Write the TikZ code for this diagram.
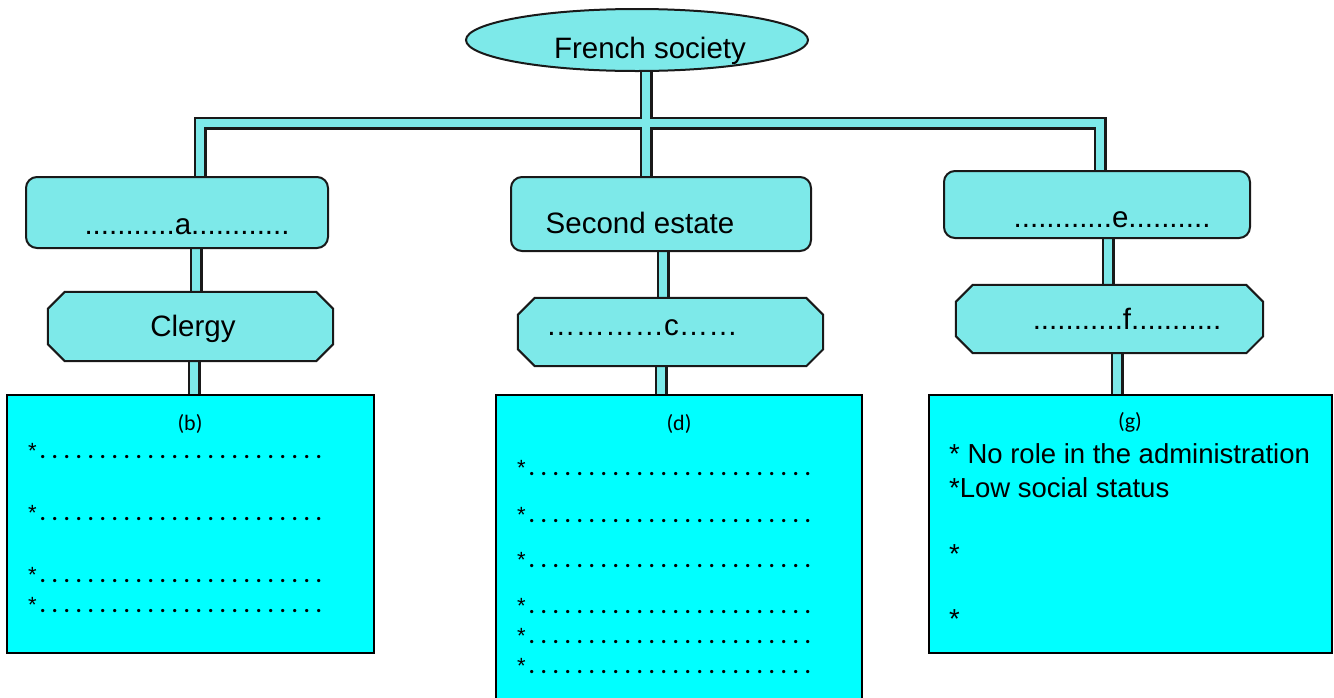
\documentclass[tikz,border=0pt]{standalone}
\usepackage{fontspec}
\setmainfont{Liberation Sans}
\newfontfamily\calib{Carlito}
\usetikzlibrary{shapes.geometric}
\pgfdeclarelayer{background}
\pgfsetlayers{background,main}
\definecolor{pale}{HTML}{7DE9E9}
\definecolor{aqua}{HTML}{00FFFF}
% a blank answer line: an asterisk followed by 24 evenly spaced dots
\newcommand\dotrow{{\fontspec{Liberation Sans}*}\hbox to 288pt{\cleaders\hbox to 12pt{\hss\textbf{.}\hss}\hfill}}
% outline of a plate: the node's rectangle with its four corners cut off
\newcommand\chamfer[1]{%
  \draw[shell] ([xshift=17pt]#1.north west) -- ([xshift=-17pt]#1.north east)
    -- ([yshift=-17pt]#1.north east) -- ([yshift=17pt]#1.south east)
    -- ([xshift=-17pt]#1.south east) -- ([xshift=17pt]#1.south west)
    -- ([yshift=17pt]#1.south west) -- ([yshift=-17pt]#1.north west) -- cycle;}

\begin{document}
\begin{tikzpicture}[x=1pt,y=-1pt,
  shell/.style={draw=black!90, line width=2pt, fill=pale, inner sep=0pt},
  oval/.style={shell, ellipse},
  tab/.style={shell, rectangle, rounded corners=11pt},
  plate/.style={rectangle, inner sep=0pt},
  sheet/.style={draw=black, line width=1.8pt, fill=aqua, inner sep=0pt, rectangle},
  big/.style={font=\fontsize{29.5}{34}\selectfont, anchor=base, inner sep=0pt},
  note/.style={font=\fontsize{27.5}{32}\selectfont, anchor=base west, inner sep=0pt},
  tag/.style={font=\calib\fontsize{22}{26}\selectfont, anchor=base, inner sep=0pt},
  row/.style={font=\calib\fontsize{22}{26}\selectfont, anchor=base west, inner sep=0pt},
  pipeedge/.style={draw=black!90, line width=13pt},
  pipecore/.style={draw=pale, line width=8.5pt},
]
\useasboundingbox (0,0) rectangle (1334,697);

% root
\node[oval, minimum width=342pt, minimum height=62pt] (soc) at (637,40) {};
\node[big] (socT) at (650,58) {French society};

% left branch
\node[tab, minimum width=302pt, minimum height=71pt] (a) at (177,212.5) {};
\node[big] (aT) at (187,234) {...........a............};
\node[plate, minimum width=285pt, minimum height=69pt] (clergy) at (190.5,326.5) {};
\chamfer{clergy}
\node[big] (clergyT) at (193,336) {Clergy};
\node[sheet, minimum width=367pt, minimum height=258pt] (b) at (190.5,524) {};
\node[tag] (bT) at (190,430) {(b)};
\foreach \y [count=\i] in {458,520,582,612}
  \node[row] (brow\i) at (28,\y) {\dotrow};

% middle branch
\node[tab, minimum width=300pt, minimum height=74pt] (second) at (661,214) {};
\node[big] (secondT) at (640,233) {Second estate};
\node[plate, minimum width=305pt, minimum height=68pt] (c) at (670.5,332) {};
\chamfer{c}
\node[big] (cT) at (642,335) {…………c……};
\node[sheet, minimum width=366pt, minimum height=306pt] (d) at (679,548) {};
\node[tag] (dT) at (679,430) {(d)};
\foreach \y [count=\i] in {475,522,567,613,643,673}
  \node[row] (drow\i) at (517,\y) {\dotrow};

% right branch
\node[tab, minimum width=306pt, minimum height=67pt] (e) at (1097,204.5) {};
\node[big] (eT) at (1112,227) {............e..........};
\node[plate, minimum width=307pt, minimum height=68pt] (f) at (1109.5,319) {};
\chamfer{f}
\node[big] (fT) at (1127,329) {...........f...........};
\node[sheet, minimum width=403pt, minimum height=258pt] (g) at (1130.5,524) {};
\node[tag] (gT) at (1130,428) {(g)};
\node[note] (g1) at (949,463) {* No role in the administration};
\node[note] (g2) at (949,497) {*Low social status};
\node[note] (g3) at (949,563) {*};
\node[note] (g4) at (949,628) {*};

% pipework: all outlines first, then all cores, so junctions merge
\coordinate (barL) at (200,123);
\coordinate (barR) at (1100,123);
\coordinate (barM) at (646,123);
\begin{pgfonlayer}{background}
\foreach \sty in {pipeedge,pipecore}{
  \draw[\sty, line join=miter] (barL |- a.center) -- (barL) -- (barR) -- (barR |- e.center);
  \draw[\sty] (barM |- soc.center) -- (barM |- second.center);
  \draw[\sty] ([xshift=19pt]a.center) -- ([xshift=19pt]a.center |- clergy.center);
  \draw[\sty] ([xshift=3.5pt]clergy.center) -- ([xshift=3.5pt]clergy.center |- b.north);
  \draw[\sty] ([xshift=2pt]second.center) -- ([xshift=2pt]second.center |- c.center);
  \draw[\sty] ([xshift=-9.5pt]c.center) -- ([xshift=-9.5pt]c.center |- d.north);
  \draw[\sty] ([xshift=11pt]e.center) -- ([xshift=11pt]e.center |- f.center);
  \draw[\sty] ([xshift=7.5pt]f.center) -- ([xshift=7.5pt]f.center |- g.north);
}
\end{pgfonlayer}
\end{tikzpicture}
\end{document}
